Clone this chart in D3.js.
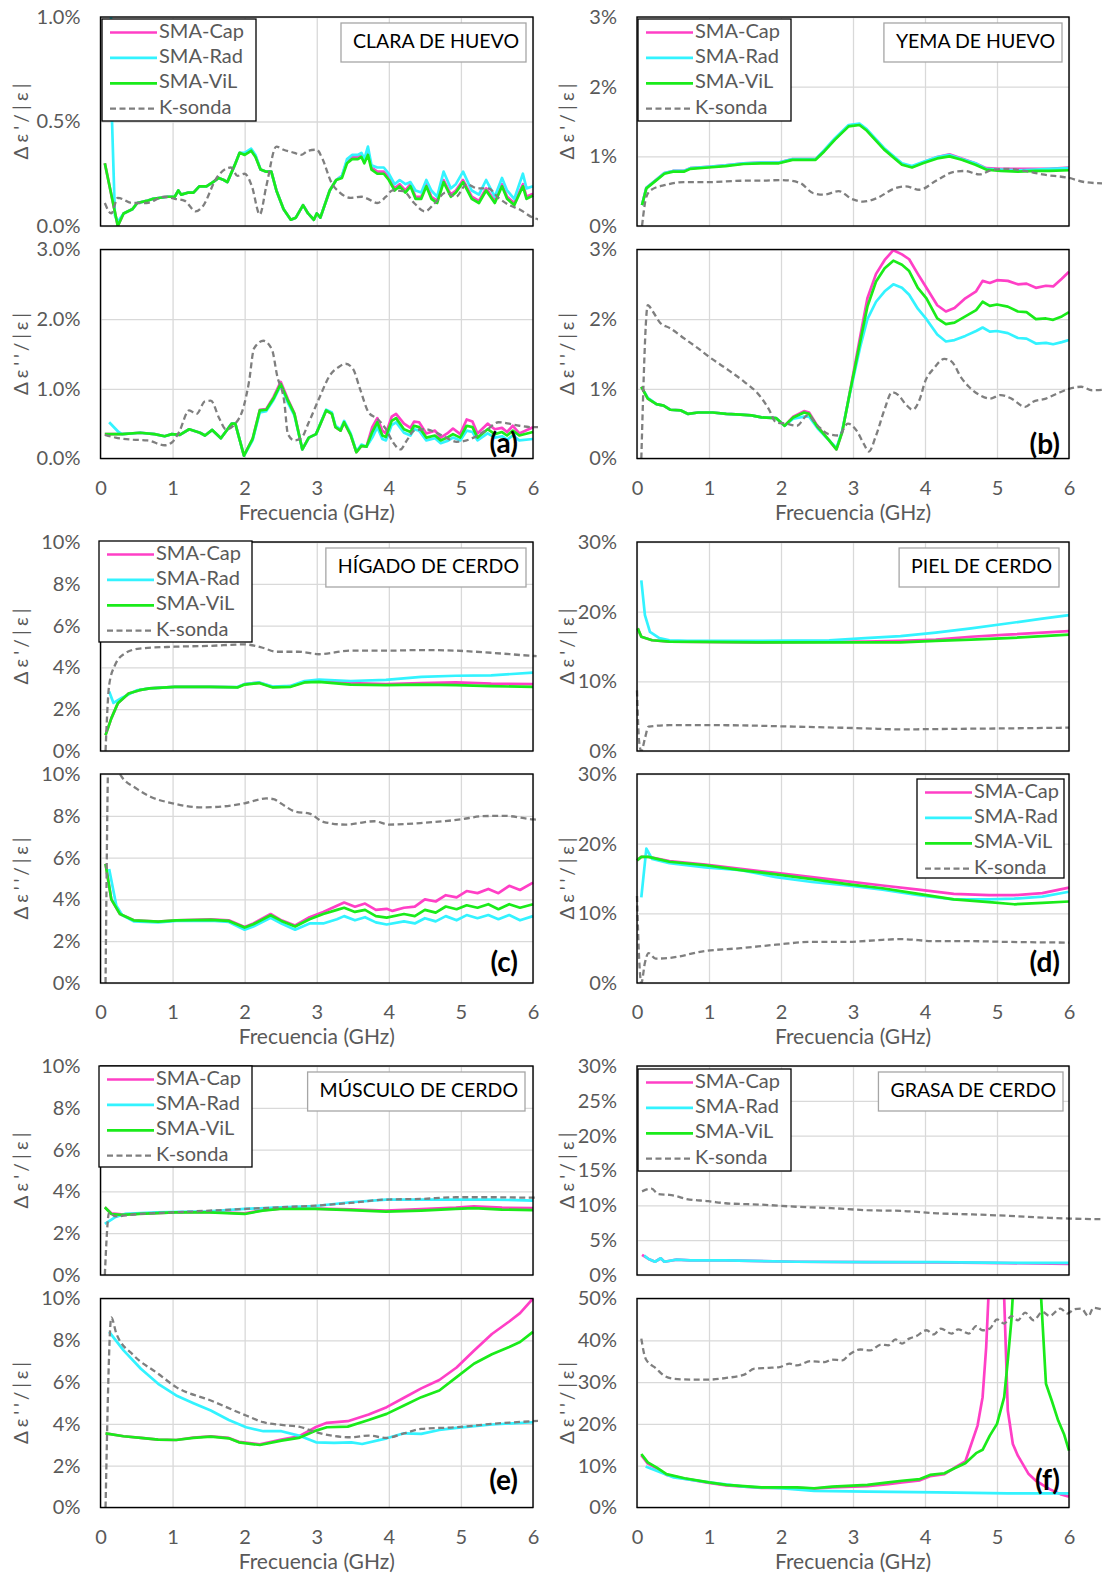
<!DOCTYPE html>
<html>
<head>
<meta charset="utf-8">
<script src="https://cdn.jsdelivr.net/npm/d3@7"></script>
<style>
  body { margin: 0; background: #fff; }
  svg text { font-family: Lato, "Open Sans", sans-serif; }
</style>
</head>
<body>
<svg id="chart" width="1102" height="1573"></svg>
<script>
// ---- data: [frecuencia GHz, error %] ----
// (a) clara de huevo
var aTopCap = [[0.06,0.30],[0.24,0.0],[0.32,0.06],[0.44,0.08],[0.51,0.11],[0.64,0.12],[0.73,0.13],[0.83,0.135],[0.93,0.14],[1.03,0.14],[1.08,0.17],[1.12,0.15],[1.22,0.16],[1.29,0.16],[1.37,0.19],[1.47,0.19],[1.56,0.21],[1.64,0.23],[1.71,0.22],[1.76,0.21],[1.86,0.29],[1.93,0.35],[2.0,0.345],[2.09,0.365],[2.15,0.335],[2.22,0.27],[2.3,0.26],[2.37,0.26],[2.44,0.17],[2.54,0.08],[2.64,0.03],[2.71,0.04],[2.81,0.10],[2.88,0.06],[2.96,0.03],[3.0,0.06],[3.05,0.04],[3.18,0.17],[3.27,0.22],[3.35,0.24],[3.42,0.31],[3.49,0.33],[3.57,0.33],[3.62,0.34],[3.66,0.31],[3.71,0.355],[3.76,0.28],[3.84,0.26],[3.93,0.26],[4.0,0.23],[4.08,0.18],[4.15,0.2],[4.23,0.17],[4.3,0.2],[4.37,0.14],[4.45,0.14],[4.52,0.2],[4.59,0.14],[4.67,0.12],[4.76,0.22],[4.86,0.15],[4.93,0.17],[5.03,0.22],[5.15,0.14],[5.25,0.12],[5.35,0.18],[5.47,0.12],[5.57,0.2],[5.64,0.14],[5.74,0.11],[5.86,0.2],[5.91,0.14],[6.0,0.155]];
var aTopRad = [[0.14,1.2],[0.16,0.5],[0.2,0.05],[0.24,0.02],[0.32,0.06],[0.44,0.08],[0.51,0.11],[0.64,0.12],[0.73,0.13],[0.83,0.135],[0.93,0.14],[1.03,0.14],[1.08,0.17],[1.12,0.15],[1.22,0.16],[1.29,0.16],[1.37,0.19],[1.47,0.19],[1.56,0.21],[1.64,0.23],[1.71,0.22],[1.76,0.21],[1.86,0.29],[1.93,0.35],[2.0,0.35],[2.09,0.37],[2.15,0.34],[2.22,0.27],[2.3,0.26],[2.37,0.26],[2.44,0.17],[2.54,0.08],[2.64,0.03],[2.71,0.04],[2.81,0.10],[2.88,0.06],[2.96,0.03],[3.0,0.06],[3.05,0.04],[3.18,0.17],[3.27,0.22],[3.35,0.24],[3.42,0.32],[3.49,0.34],[3.57,0.34],[3.62,0.35],[3.66,0.32],[3.71,0.38],[3.76,0.29],[3.84,0.28],[3.93,0.28],[4.0,0.25],[4.08,0.2],[4.15,0.22],[4.23,0.2],[4.3,0.21],[4.37,0.17],[4.45,0.16],[4.52,0.22],[4.59,0.17],[4.67,0.14],[4.76,0.26],[4.86,0.18],[4.93,0.2],[5.03,0.26],[5.15,0.17],[5.25,0.15],[5.35,0.22],[5.47,0.14],[5.57,0.23],[5.64,0.17],[5.74,0.13],[5.86,0.25],[5.91,0.18],[6.0,0.19]];
var aTopVil = [[0.06,0.30],[0.24,0.0],[0.32,0.06],[0.44,0.08],[0.51,0.11],[0.64,0.12],[0.73,0.13],[0.83,0.135],[0.93,0.14],[1.03,0.14],[1.08,0.17],[1.12,0.15],[1.22,0.16],[1.29,0.16],[1.37,0.19],[1.47,0.19],[1.56,0.21],[1.64,0.23],[1.71,0.22],[1.76,0.21],[1.86,0.29],[1.93,0.35],[2.0,0.34],[2.09,0.36],[2.15,0.33],[2.22,0.27],[2.3,0.26],[2.37,0.26],[2.44,0.17],[2.54,0.08],[2.64,0.03],[2.71,0.04],[2.81,0.10],[2.88,0.06],[2.96,0.03],[3.0,0.06],[3.05,0.04],[3.18,0.17],[3.27,0.22],[3.35,0.23],[3.42,0.30],[3.49,0.32],[3.57,0.32],[3.62,0.33],[3.66,0.30],[3.71,0.34],[3.76,0.27],[3.84,0.25],[3.93,0.25],[4.0,0.22],[4.08,0.17],[4.15,0.19],[4.23,0.16],[4.3,0.19],[4.37,0.13],[4.45,0.13],[4.52,0.19],[4.59,0.13],[4.67,0.11],[4.76,0.21],[4.86,0.14],[4.93,0.16],[5.03,0.21],[5.15,0.13],[5.25,0.11],[5.35,0.17],[5.47,0.11],[5.57,0.19],[5.64,0.13],[5.74,0.10],[5.86,0.19],[5.91,0.13],[6.0,0.146]];
var aTopKs = [[0.06,0.11],[0.15,0.06],[0.24,0.135],[0.44,0.11],[0.64,0.11],[0.88,0.14],[1.03,0.13],[1.17,0.12],[1.32,0.07],[1.42,0.095],[1.61,0.23],[1.81,0.28],[1.9,0.24],[2.0,0.25],[2.1,0.19],[2.21,0.055],[2.3,0.19],[2.44,0.38],[2.54,0.365],[2.69,0.35],[2.78,0.34],[2.88,0.36],[3.0,0.365],[3.08,0.32],[3.2,0.21],[3.32,0.16],[3.47,0.135],[3.62,0.14],[3.71,0.13],[3.84,0.11],[3.96,0.14],[4.05,0.17],[4.2,0.167],[4.35,0.11],[4.5,0.07],[4.64,0.11],[4.79,0.16],[4.93,0.14],[5.08,0.2],[5.23,0.18],[5.38,0.18],[5.52,0.135],[5.67,0.10],[5.81,0.08],[6.0,0.04],[6.1,0.03]];

var aBotCap = [[0.06,0.35],[0.3,0.35],[0.55,0.37],[0.75,0.35],[0.89,0.32],[0.99,0.35],[1.1,0.34],[1.23,0.42],[1.38,0.37],[1.45,0.33],[1.55,0.41],[1.67,0.29],[1.82,0.5],[1.87,0.5],[1.99,0.04],[2.11,0.28],[2.21,0.7],[2.3,0.71],[2.4,0.88],[2.5,1.1],[2.6,0.85],[2.69,0.65],[2.8,0.13],[2.89,0.3],[2.99,0.35],[3.13,0.69],[3.21,0.64],[3.26,0.45],[3.33,0.4],[3.38,0.52],[3.47,0.34],[3.55,0.09],[3.62,0.18],[3.69,0.17],[3.77,0.45],[3.84,0.58],[3.91,0.4],[3.96,0.36],[4.04,0.6],[4.1,0.64],[4.21,0.5],[4.3,0.44],[4.35,0.53],[4.42,0.52],[4.52,0.36],[4.64,0.4],[4.72,0.3],[4.81,0.36],[4.89,0.43],[4.99,0.35],[5.08,0.56],[5.16,0.53],[5.23,0.36],[5.37,0.5],[5.47,0.42],[5.57,0.44],[5.64,0.38],[5.72,0.47],[5.81,0.36],[6.0,0.45]];
var aBotRad = [[0.12,0.52],[0.25,0.38],[0.3,0.35],[0.55,0.37],[0.75,0.35],[0.89,0.32],[0.99,0.35],[1.1,0.34],[1.23,0.42],[1.38,0.37],[1.45,0.33],[1.55,0.41],[1.67,0.29],[1.82,0.5],[1.87,0.5],[1.99,0.04],[2.11,0.26],[2.21,0.66],[2.3,0.68],[2.4,0.84],[2.5,1.05],[2.6,0.8],[2.69,0.62],[2.8,0.13],[2.89,0.3],[2.99,0.35],[3.13,0.7],[3.21,0.66],[3.26,0.47],[3.33,0.42],[3.38,0.54],[3.47,0.36],[3.55,0.1],[3.62,0.2],[3.69,0.17],[3.77,0.3],[3.84,0.45],[3.91,0.28],[3.96,0.26],[4.04,0.48],[4.1,0.52],[4.21,0.37],[4.3,0.33],[4.35,0.42],[4.42,0.4],[4.52,0.26],[4.64,0.29],[4.72,0.22],[4.81,0.25],[4.89,0.3],[4.99,0.26],[5.08,0.4],[5.16,0.38],[5.23,0.26],[5.37,0.36],[5.47,0.3],[5.57,0.32],[5.64,0.27],[5.72,0.33],[5.81,0.26],[6.0,0.28]];
var aBotVil = [[0.06,0.35],[0.3,0.35],[0.55,0.37],[0.75,0.35],[0.89,0.32],[0.99,0.35],[1.1,0.34],[1.23,0.42],[1.38,0.37],[1.45,0.33],[1.55,0.41],[1.67,0.29],[1.82,0.5],[1.87,0.5],[1.99,0.04],[2.11,0.28],[2.21,0.69],[2.3,0.7],[2.4,0.86],[2.5,1.07],[2.6,0.83],[2.69,0.64],[2.8,0.13],[2.89,0.3],[2.99,0.35],[3.13,0.69],[3.21,0.64],[3.26,0.45],[3.33,0.4],[3.38,0.52],[3.47,0.34],[3.55,0.09],[3.62,0.18],[3.69,0.17],[3.77,0.38],[3.84,0.52],[3.91,0.33],[3.96,0.31],[4.04,0.54],[4.1,0.58],[4.21,0.42],[4.3,0.38],[4.35,0.47],[4.42,0.45],[4.52,0.3],[4.64,0.33],[4.72,0.26],[4.81,0.3],[4.89,0.35],[4.99,0.3],[5.08,0.47],[5.16,0.45],[5.23,0.3],[5.37,0.42],[5.47,0.35],[5.57,0.38],[5.64,0.33],[5.72,0.4],[5.81,0.33],[6.0,0.38]];
var aBotKs = [[0.06,0.34],[0.21,0.3],[0.45,0.27],[0.65,0.26],[0.89,0.19],[0.99,0.23],[1.09,0.38],[1.23,0.69],[1.33,0.64],[1.45,0.82],[1.53,0.83],[1.65,0.57],[1.74,0.42],[1.87,0.5],[1.99,0.76],[2.06,1.1],[2.13,1.58],[2.26,1.69],[2.38,1.56],[2.45,1.19],[2.55,0.81],[2.6,0.35],[2.69,0.26],[2.79,0.3],[2.89,0.52],[3.04,0.88],[3.18,1.19],[3.3,1.31],[3.4,1.36],[3.5,1.29],[3.6,1.0],[3.72,0.66],[3.84,0.57],[3.96,0.42],[4.06,0.23],[4.16,0.13],[4.25,0.26],[4.35,0.4],[4.5,0.42],[4.64,0.38],[4.79,0.3],[4.94,0.24],[5.08,0.26],[5.23,0.33],[5.37,0.42],[5.52,0.52],[5.67,0.5],[5.81,0.47],[6.0,0.45],[6.1,0.45]];

// (b) yema de huevo
var bTopCap = [[0.07,0.3],[0.13,0.55],[0.25,0.65],[0.38,0.76],[0.5,0.79],[0.65,0.79],[0.74,0.83],[0.99,0.85],[1.23,0.87],[1.48,0.9],[1.72,0.91],[1.97,0.91],[2.16,0.96],[2.48,0.96],[2.6,1.08],[2.75,1.25],[2.94,1.44],[3.09,1.46],[3.19,1.38],[3.43,1.11],[3.68,0.89],[3.82,0.85],[3.97,0.91],[4.17,0.99],[4.34,1.03],[4.51,0.97],[4.7,0.9],[4.85,0.83],[5.05,0.82],[5.29,0.82],[5.54,0.82],[5.73,0.82],[6.0,0.84]];
var bTopRad = [[0.07,0.3],[0.13,0.55],[0.25,0.65],[0.38,0.76],[0.5,0.79],[0.65,0.79],[0.74,0.83],[0.99,0.85],[1.23,0.87],[1.48,0.9],[1.72,0.91],[1.97,0.91],[2.16,0.96],[2.48,0.96],[2.6,1.09],[2.75,1.26],[2.94,1.45],[3.09,1.47],[3.19,1.39],[3.43,1.12],[3.68,0.9],[3.82,0.86],[3.97,0.92],[4.17,0.99],[4.34,1.02],[4.51,0.96],[4.7,0.9],[4.85,0.82],[5.05,0.81],[5.29,0.8],[5.54,0.81],[5.73,0.82],[6.0,0.83]];
var bTopVil = [[0.07,0.3],[0.13,0.54],[0.25,0.64],[0.38,0.75],[0.5,0.78],[0.65,0.78],[0.74,0.82],[0.99,0.84],[1.23,0.86],[1.48,0.89],[1.72,0.9],[1.97,0.9],[2.16,0.95],[2.48,0.95],[2.6,1.07],[2.75,1.24],[2.94,1.43],[3.09,1.45],[3.19,1.37],[3.43,1.1],[3.68,0.88],[3.82,0.84],[3.97,0.9],[4.17,0.97],[4.34,1.0],[4.51,0.95],[4.7,0.88],[4.85,0.81],[5.05,0.79],[5.29,0.78],[5.54,0.79],[5.73,0.79],[6.0,0.8]];
var bTopKs = [[0.07,0],[0.13,0.42],[0.2,0.52],[0.4,0.59],[0.65,0.63],[0.99,0.63],[1.48,0.65],[1.72,0.65],[2.01,0.66],[2.26,0.62],[2.45,0.47],[2.6,0.45],[2.8,0.5],[2.99,0.385],[3.14,0.35],[3.33,0.4],[3.58,0.54],[3.73,0.57],[3.92,0.52],[4.17,0.66],[4.41,0.78],[4.56,0.79],[4.75,0.74],[4.95,0.81],[5.14,0.82],[5.39,0.79],[5.63,0.74],[6.0,0.69],[6.22,0.63],[6.5,0.61]];

var bBotCap = [[0.06,1.03],[0.15,0.86],[0.27,0.78],[0.37,0.76],[0.46,0.7],[0.61,0.69],[0.71,0.64],[0.85,0.66],[1.05,0.66],[1.24,0.64],[1.44,0.63],[1.59,0.62],[1.73,0.59],[1.93,0.58],[2.05,0.47],[2.17,0.6],[2.32,0.68],[2.39,0.66],[2.51,0.46],[2.66,0.27],[2.77,0.13],[2.85,0.38],[2.95,0.92],[3.1,1.75],[3.2,2.3],[3.32,2.65],[3.44,2.85],[3.56,2.99],[3.68,2.93],[3.78,2.86],[3.9,2.65],[4.02,2.45],[4.17,2.2],[4.29,2.11],[4.41,2.16],[4.56,2.3],[4.71,2.4],[4.8,2.55],[4.9,2.52],[5.0,2.56],[5.15,2.55],[5.29,2.5],[5.41,2.51],[5.54,2.45],[5.68,2.48],[5.78,2.47],[5.9,2.58],[6.0,2.68]];
var bBotRad = [[0.1,0.96],[0.15,0.87],[0.27,0.78],[0.37,0.76],[0.46,0.7],[0.61,0.69],[0.71,0.64],[0.85,0.66],[1.05,0.66],[1.24,0.64],[1.44,0.63],[1.59,0.62],[1.73,0.59],[1.93,0.58],[2.05,0.47],[2.17,0.57],[2.32,0.6],[2.39,0.6],[2.51,0.43],[2.66,0.27],[2.77,0.15],[2.85,0.4],[2.95,0.9],[3.1,1.6],[3.2,2.0],[3.32,2.25],[3.44,2.4],[3.56,2.5],[3.68,2.45],[3.78,2.35],[3.9,2.15],[4.02,2.0],[4.17,1.78],[4.29,1.68],[4.41,1.7],[4.56,1.76],[4.71,1.83],[4.8,1.88],[4.9,1.82],[5.0,1.83],[5.15,1.8],[5.29,1.73],[5.41,1.72],[5.54,1.65],[5.68,1.66],[5.78,1.64],[5.9,1.67],[6.0,1.7]];
var bBotVil = [[0.06,1.03],[0.15,0.86],[0.27,0.78],[0.37,0.76],[0.46,0.7],[0.61,0.69],[0.71,0.64],[0.85,0.66],[1.05,0.66],[1.24,0.64],[1.44,0.63],[1.59,0.62],[1.73,0.59],[1.93,0.58],[2.05,0.47],[2.17,0.59],[2.32,0.66],[2.39,0.64],[2.51,0.45],[2.66,0.27],[2.77,0.13],[2.85,0.38],[2.95,0.91],[3.1,1.68],[3.2,2.18],[3.32,2.54],[3.44,2.73],[3.56,2.84],[3.68,2.78],[3.78,2.69],[3.9,2.45],[4.02,2.3],[4.17,2.01],[4.29,1.93],[4.41,1.95],[4.56,2.04],[4.71,2.13],[4.8,2.25],[4.9,2.19],[5.0,2.21],[5.15,2.18],[5.29,2.11],[5.41,2.1],[5.54,2.0],[5.68,2.01],[5.78,1.99],[5.9,2.04],[6.0,2.1]];
var bBotKs = [[0.06,0],[0.15,2.2],[0.22,2.11],[0.32,1.95],[0.46,1.87],[0.66,1.72],[0.85,1.58],[1.0,1.46],[1.24,1.29],[1.49,1.1],[1.68,0.93],[1.83,0.71],[1.93,0.52],[2.07,0.5],[2.22,0.47],[2.37,0.62],[2.51,0.47],[2.66,0.35],[2.8,0.33],[2.93,0.5],[3.05,0.4],[3.15,0.21],[3.22,0.1],[3.32,0.33],[3.44,0.71],[3.54,0.95],[3.63,0.91],[3.73,0.78],[3.83,0.7],[3.93,0.86],[4.0,1.1],[4.12,1.29],[4.27,1.43],[4.37,1.39],[4.51,1.15],[4.61,1.03],[4.76,0.91],[4.9,0.86],[5.05,0.91],[5.2,0.86],[5.39,0.74],[5.49,0.81],[5.68,0.86],[5.83,0.93],[6.0,1.0],[6.17,1.03],[6.32,0.98],[6.5,0.99]];

// (c) hígado de cerdo
var cTopCap = [[0.07,0.76],[0.15,1.56],[0.24,2.28],[0.39,2.75],[0.54,2.91],[0.68,3.0],[1.03,3.07],[1.51,3.07],[1.9,3.05],[2.0,3.2],[2.2,3.27],[2.39,3.06],[2.64,3.1],[2.83,3.3],[3.03,3.35],[3.47,3.25],[3.96,3.2],[4.45,3.25],[4.93,3.28],[5.42,3.22],[6.0,3.2]];
var cTopRad = [[0.12,2.85],[0.18,2.3],[0.3,2.55],[0.5,2.9],[0.68,3.0],[1.03,3.07],[1.51,3.07],[1.9,3.06],[2.0,3.2],[2.2,3.28],[2.39,3.08],[2.64,3.12],[2.83,3.35],[3.03,3.42],[3.47,3.35],[3.96,3.4],[4.45,3.55],[4.93,3.6],[5.42,3.62],[6.0,3.75]];
var cTopVil = [[0.07,0.76],[0.15,1.56],[0.24,2.28],[0.39,2.75],[0.54,2.91],[0.68,3.0],[1.03,3.07],[1.51,3.07],[1.9,3.04],[2.0,3.18],[2.2,3.25],[2.39,3.04],[2.64,3.07],[2.83,3.28],[3.03,3.31],[3.47,3.18],[3.96,3.15],[4.45,3.18],[4.93,3.15],[5.42,3.1],[6.0,3.07]];
var cTopKs = [[0.07,0],[0.12,3.15],[0.2,4.1],[0.34,4.67],[0.54,4.9],[1.03,4.99],[1.51,5.03],[2.0,5.1],[2.25,4.94],[2.44,4.75],[2.74,4.75],[3.03,4.63],[3.47,4.8],[3.96,4.8],[4.45,4.83],[4.93,4.8],[5.42,4.7],[6.0,4.55],[6.05,4.54]];

var cBotCap = [[0.07,5.7],[0.15,4.0],[0.27,3.3],[0.46,3.0],[0.8,2.94],[1.05,3.0],[1.53,3.05],[1.78,3.0],[2.0,2.68],[2.12,2.85],[2.36,3.3],[2.51,3.0],[2.7,2.75],[2.9,3.15],[3.09,3.4],[3.28,3.7],[3.38,3.85],[3.53,3.65],[3.67,3.8],[3.82,3.5],[3.97,3.55],[4.05,3.45],[4.21,3.6],[4.36,3.65],[4.5,4.0],[4.65,3.9],[4.79,4.2],[4.94,4.1],[5.08,4.4],[5.23,4.3],[5.38,4.5],[5.52,4.3],[5.67,4.65],[5.82,4.45],[6.0,4.8]];
var cBotRad = [[0.12,5.45],[0.22,3.7],[0.3,3.25],[0.46,2.95],[0.8,2.9],[1.05,2.97],[1.53,2.98],[1.78,2.92],[2.0,2.55],[2.12,2.7],[2.36,3.12],[2.51,2.85],[2.7,2.55],[2.9,2.85],[3.09,2.85],[3.28,3.05],[3.38,3.2],[3.53,3.0],[3.67,3.15],[3.82,2.9],[3.97,2.8],[4.21,2.95],[4.36,2.85],[4.5,3.1],[4.65,2.95],[4.79,3.2],[4.94,3.0],[5.08,3.25],[5.23,3.1],[5.38,3.25],[5.52,3.05],[5.67,3.25],[5.82,3.0],[6.0,3.2]];
var cBotVil = [[0.07,5.7],[0.15,4.0],[0.27,3.3],[0.46,3.0],[0.8,2.94],[1.05,3.0],[1.53,3.02],[1.78,2.97],[2.0,2.65],[2.12,2.81],[2.36,3.24],[2.51,2.97],[2.7,2.7],[2.9,3.05],[3.09,3.3],[3.28,3.5],[3.38,3.6],[3.53,3.4],[3.67,3.5],[3.82,3.2],[3.97,3.13],[4.21,3.3],[4.36,3.2],[4.5,3.5],[4.65,3.37],[4.79,3.66],[4.94,3.53],[5.08,3.72],[5.23,3.6],[5.38,3.77],[5.52,3.53],[5.67,3.77],[5.82,3.6],[6.0,3.77]];
var cBotKs = [[0.07,0],[0.12,12],[0.2,10.6],[0.27,10.0],[0.5,9.3],[0.7,8.9],[1.0,8.6],[1.4,8.4],[1.7,8.45],[2.0,8.6],[2.3,8.83],[2.4,8.8],[2.5,8.6],[2.7,8.2],[2.9,8.1],[3.1,7.7],[3.4,7.58],[3.8,7.74],[4.0,7.58],[4.5,7.67],[5.0,7.83],[5.3,7.98],[5.6,8.0],[6.0,7.83],[6.05,7.82]];

// (d) piel de cerdo
var dTopCap = [[0.01,17.6],[0.06,16.4],[0.21,15.9],[0.45,15.7],[1.69,15.6],[3.17,15.7],[3.66,15.8],[4.15,16.0],[4.64,16.4],[5.14,16.7],[6.0,17.2]];
var dTopRad = [[0.06,24.5],[0.11,19.5],[0.18,17.1],[0.31,16.2],[0.45,15.9],[0.7,15.8],[1.69,15.8],[2.67,15.9],[3.17,16.2],[3.66,16.5],[4.15,17.0],[4.64,17.6],[5.14,18.3],[5.63,19.0],[6.0,19.5]];
var dTopVil = [[0.01,17.6],[0.06,16.4],[0.21,15.9],[0.45,15.7],[1.69,15.6],[3.17,15.6],[3.66,15.6],[4.15,15.8],[4.64,16.0],[5.14,16.2],[6.0,16.7]];
var dTopKs = [[0.0,8.7],[0.03,1.3],[0.06,0],[0.11,1.8],[0.16,3.5],[0.45,3.7],[1.19,3.7],[2.18,3.5],[3.17,3.25],[3.66,3.1],[4.15,3.15],[5.14,3.25],[6.0,3.35]];

var dBotCap = [[0.0,17.6],[0.06,18.1],[0.16,18.1],[0.45,17.5],[0.95,17.0],[1.44,16.4],[1.93,15.8],[2.43,15.2],[2.92,14.6],[3.41,14.0],[3.91,13.4],[4.4,12.8],[4.89,12.6],[5.24,12.6],[5.63,12.9],[6.0,13.7]];
var dBotRad = [[0.06,12.3],[0.13,19.3],[0.21,17.8],[0.45,17.2],[0.95,16.6],[1.44,16.2],[1.93,15.2],[2.43,14.5],[2.92,14.0],[3.41,13.4],[3.91,12.6],[4.4,12.0],[4.89,12.0],[5.24,12.1],[5.63,12.4],[6.0,13.1]];
var dBotVil = [[0.0,17.6],[0.06,18.1],[0.16,18.1],[0.45,17.4],[0.95,16.9],[1.44,16.2],[1.93,15.6],[2.43,14.9],[2.92,14.2],[3.41,13.6],[3.91,12.8],[4.4,12.0],[4.89,11.6],[5.24,11.3],[5.63,11.5],[6.0,11.7]];
var dBotKs = [[0.0,12.5],[0.03,3.4],[0.06,0],[0.11,2.9],[0.16,4.3],[0.26,3.5],[0.45,3.6],[0.95,4.6],[1.44,5.0],[1.93,5.5],[2.43,5.9],[2.92,5.9],[3.41,6.2],[3.66,6.3],[4.15,6.0],[4.64,6.0],[5.14,5.9],[6.0,5.8]];

// (e) músculo de cerdo
var eTopCap = [[0.06,3.24],[0.15,2.95],[0.29,2.9],[0.54,2.93],[1.03,3.0],[1.51,3.02],[2.0,2.95],[2.25,3.1],[2.49,3.18],[2.98,3.18],[3.47,3.14],[3.96,3.08],[4.45,3.15],[4.93,3.22],[5.18,3.28],[5.57,3.22],[6.0,3.2]];
var eTopRad = [[0.06,2.45],[0.2,2.76],[0.34,2.92],[0.78,3.0],[1.51,3.05],[2.0,3.16],[2.49,3.24],[2.98,3.3],[3.47,3.48],[3.96,3.61],[4.45,3.61],[4.93,3.61],[5.42,3.61],[6.0,3.56]];
var eTopVil = [[0.06,3.24],[0.15,2.92],[0.29,2.88],[0.54,2.92],[1.03,3.0],[1.51,3.0],[2.0,2.92],[2.25,3.08],[2.49,3.16],[2.98,3.16],[3.47,3.1],[3.96,3.03],[4.45,3.08],[4.93,3.16],[5.18,3.2],[5.57,3.13],[6.0,3.1]];
var eTopKs = [[0.06,0],[0.12,3.0],[0.2,2.81],[0.54,2.92],[1.03,3.0],[1.51,3.08],[2.0,3.16],[2.49,3.24],[2.98,3.32],[3.47,3.45],[3.96,3.61],[4.45,3.64],[4.93,3.72],[5.42,3.72],[6.0,3.7],[6.1,3.7]];

var eBotCap = [[0.07,3.55],[0.32,3.41],[0.56,3.33],[0.8,3.25],[1.05,3.23],[1.29,3.35],[1.53,3.41],[1.78,3.33],[1.92,3.14],[2.21,3.02],[2.51,3.25],[2.75,3.4],[2.99,3.85],[3.14,4.05],[3.43,4.13],[3.72,4.45],[3.97,4.8],[4.21,5.25],[4.45,5.7],[4.7,6.1],[4.94,6.7],[5.18,7.5],[5.43,8.3],[5.67,8.9],[5.82,9.3],[6.0,10.0]];
var eBotRad = [[0.12,8.4],[0.32,7.52],[0.56,6.64],[0.8,5.92],[1.05,5.36],[1.29,4.99],[1.53,4.64],[1.78,4.19],[2.02,3.84],[2.26,3.65],[2.51,3.65],[2.75,3.44],[2.99,3.12],[3.24,3.09],[3.48,3.12],[3.63,3.04],[3.97,3.31],[4.21,3.55],[4.45,3.52],[4.7,3.71],[4.94,3.81],[5.43,3.97],[6.0,4.08]];
var eBotVil = [[0.07,3.55],[0.32,3.41],[0.56,3.33],[0.8,3.25],[1.05,3.23],[1.29,3.33],[1.53,3.39],[1.78,3.31],[1.92,3.12],[2.21,2.99],[2.51,3.2],[2.75,3.33],[2.99,3.68],[3.14,3.84],[3.43,3.87],[3.72,4.19],[3.97,4.48],[4.21,4.88],[4.45,5.28],[4.7,5.6],[4.94,6.24],[5.18,6.88],[5.43,7.33],[5.67,7.68],[5.82,7.92],[6.0,8.4]];
var eBotKs = [[0.07,0],[0.15,9.09],[0.22,8.32],[0.46,7.28],[0.8,6.4],[1.05,5.76],[1.53,5.12],[2.02,4.4],[2.26,4.08],[2.51,3.95],[2.75,3.87],[2.99,3.6],[3.48,3.36],[3.72,3.44],[3.97,3.33],[4.21,3.55],[4.45,3.76],[4.94,3.84],[5.43,4.0],[6.0,4.13],[6.1,4.15]];

// (f) grasa de cerdo
var fTopCap = [[0.07,2.9],[0.16,2.3],[0.25,1.9],[0.33,2.4],[0.38,1.9],[0.55,2.2],[0.74,2.1],[1.23,2.1],[2.21,1.9],[3.19,1.85],[4.17,1.8],[5.14,1.7],[6.0,1.6]];
var fTopRad = [[0.1,2.8],[0.16,2.3],[0.25,1.9],[0.33,2.4],[0.38,1.9],[0.55,2.2],[0.74,2.1],[1.23,2.1],[2.21,1.9],[3.19,1.85],[4.17,1.85],[5.14,1.75],[6.0,1.75]];
var fTopVil = [];
var fTopKs = [[0.07,12.0],[0.2,12.4],[0.3,11.6],[0.45,11.5],[0.55,11.3],[0.69,10.9],[0.99,10.6],[1.23,10.3],[1.72,10.1],[2.21,9.8],[2.7,9.6],[3.19,9.3],[3.68,9.2],[4.17,8.85],[4.66,8.7],[5.14,8.5],[5.63,8.25],[6.0,8.1],[6.5,8.0]];

var fBotCap = [[0.06,12.5],[0.15,10.5],[0.27,9.4],[0.41,7.8],[0.66,6.9],[1.0,5.9],[1.24,5.3],[1.73,4.7],[2.22,4.7],[2.46,4.5],[2.71,4.8],[3.2,5.1],[3.49,5.6],[3.68,6.0],[3.93,6.5],[4.07,7.5],[4.27,8.0],[4.41,9.5],[4.56,11.0],[4.73,19.6],[4.8,26.4],[4.85,38.4],[4.88,50],[4.95,100],[5.05,100],[5.1,50],[5.15,23.2],[5.22,15.2],[5.29,12.4],[5.44,8.0],[5.54,6.4],[5.73,4.4],[5.88,3.2],[6.0,2.6]];
var fBotRad = [[0.12,9.8],[0.27,8.8],[0.51,7.2],[1.0,6.0],[1.49,5.0],[1.98,4.6],[2.46,4.0],[3.2,3.8],[4.17,3.6],[5.15,3.4],[6.0,3.4]];
var fBotVil = [[0.06,12.8],[0.15,10.8],[0.27,9.6],[0.41,8.0],[0.66,7.0],[1.0,6.0],[1.24,5.4],[1.73,4.8],[2.22,4.8],[2.46,4.6],[2.71,5.0],[3.2,5.4],[3.49,6.0],[3.68,6.4],[3.93,6.8],[4.07,7.8],[4.27,8.2],[4.41,9.4],[4.56,10.6],[4.71,13.0],[4.8,13.8],[4.9,17.2],[5.0,20.0],[5.1,26.4],[5.15,35.2],[5.2,44.8],[5.25,60],[5.4,150],[5.58,60],[5.62,48],[5.68,29.6],[5.76,25.6],[5.85,20.8],[5.93,17.6],[6.0,13.6]];
var fBotKs = [[0.06,40.4],[0.12,35.6],[0.27,33.2],[0.37,31.6],[0.51,30.8],[0.76,30.6],[1.0,30.6],[1.24,31.0],[1.49,31.8],[1.63,33.2],[1.83,33.4],[1.98,33.6],[2.12,34.4],[2.22,34.0],[2.41,35.0],[2.61,34.8],[2.71,35.4],[2.85,35.2],[2.95,36.6],[3.1,37.8],[3.24,37.6],[3.39,39.0],[3.49,38.8],[3.59,40.2],[3.68,39.2],[3.78,40.4],[3.88,41.0],[4.02,42.4],[4.12,41.4],[4.22,42.8],[4.37,41.6],[4.46,42.6],[4.61,41.6],[4.71,43.4],[4.8,42.4],[4.9,42.8],[5.0,45.0],[5.1,44.0],[5.2,45.8],[5.29,44.8],[5.39,46.6],[5.51,44.8],[5.63,46.8],[5.73,45.8],[5.88,47.6],[5.98,46.4],[6.07,47.4],[6.17,47.6],[6.27,45.8],[6.34,47.8],[6.45,47.4]];

var xTicks = [0, 1, 2, 3, 4, 5, 6];
var seriesKeys = ["cap", "rad", "vil", "ks"];
var seriesNames = {cap: "SMA-Cap", rad: "SMA-Rad", vil: "SMA-ViL", ks: "K-sonda"};
var colors = {cap: "#ff3fc6", rad: "#33f3ff", vil: "#1aeb1a", ks: "#7f7f7f"};

// ---- layout ----
var colL = {x0: 100.5, x1: 533, clipR: 538, yTitle: 23, label: 518},
    colR = {x0: 637, x1: 1069, clipR: 1102, yTitle: 569, label: 1060};
var plotH = 209;
var yPrime = "\u0394\u03b5'/|\u03b5|", yDouble = "\u0394\u03b5''/|\u03b5|";

var panels = [
  {col: colL, top: 17, yMax: 1.0, step: 0.5, dec: 1, title: yPrime,
   data: {cap: aTopCap, rad: aTopRad, vil: aTopVil, ks: aTopKs},
   legend: {x: 102, y: 19, w: 154, h: 102}, name: {text: "CLARA DE HUEVO", right: 526, y: 23}},
  {col: colL, top: 249.5, yMax: 3.0, step: 1, dec: 1, title: yDouble, tag: "(a)", tagY: 443,
   data: {cap: aBotCap, rad: aBotRad, vil: aBotVil, ks: aBotKs}},
  {col: colR, top: 17, yMax: 3, step: 1, dec: 0, title: yPrime,
   data: {cap: bTopCap, rad: bTopRad, vil: bTopVil, ks: bTopKs},
   legend: {x: 638, y: 19, w: 153, h: 102}, name: {text: "YEMA DE HUEVO", right: 1062, y: 23}},
  {col: colR, top: 249.5, yMax: 3, step: 1, dec: 0, title: yDouble, tag: "(b)", tagY: 444,
   data: {cap: bBotCap, rad: bBotRad, vil: bBotVil, ks: bBotKs}},
  {col: colL, top: 542, yMax: 10, step: 2, dec: 0, title: yPrime,
   data: {cap: cTopCap, rad: cTopRad, vil: cTopVil, ks: cTopKs},
   legend: {x: 99, y: 541, w: 153, h: 101}, name: {text: "H\u00cdGADO DE CERDO", right: 526, y: 548}},
  {col: colL, top: 774, yMax: 10, step: 2, dec: 0, title: yDouble, tag: "(c)", tagY: 962,
   data: {cap: cBotCap, rad: cBotRad, vil: cBotVil, ks: cBotKs}},
  {col: colR, top: 542, yMax: 30, step: 10, dec: 0, title: yPrime,
   data: {cap: dTopCap, rad: dTopRad, vil: dTopVil, ks: dTopKs},
   name: {text: "PIEL DE CERDO", right: 1059, y: 548}},
  {col: colR, top: 774, yMax: 30, step: 10, dec: 0, title: yDouble, tag: "(d)", tagY: 962,
   data: {cap: dBotCap, rad: dBotRad, vil: dBotVil, ks: dBotKs},
   legend: {x: 917, y: 779, w: 147, h: 99}},
  {col: colL, top: 1066, yMax: 10, step: 2, dec: 0, title: yPrime,
   data: {cap: eTopCap, rad: eTopRad, vil: eTopVil, ks: eTopKs},
   legend: {x: 99, y: 1066, w: 153, h: 101}, name: {text: "M\u00daSCULO DE CERDO", right: 525, y: 1072}},
  {col: colL, top: 1298.5, yMax: 10, step: 2, dec: 0, title: yDouble, tag: "(e)", tagY: 1480,
   data: {cap: eBotCap, rad: eBotRad, vil: eBotVil, ks: eBotKs}},
  {col: colR, top: 1066, yMax: 30, step: 5, dec: 0, title: yPrime,
   data: {cap: fTopCap, rad: fTopRad, vil: fTopVil, ks: fTopKs},
   legend: {x: 638, y: 1069, w: 153, h: 102}, name: {text: "GRASA DE CERDO", right: 1063, y: 1072}},
  {col: colR, top: 1298.5, yMax: 50, step: 10, dec: 0, title: yDouble, tag: "(f)", tagY: 1480,
   data: {cap: fBotCap, rad: fBotRad, vil: fBotVil, ks: fBotKs}}
];

var svg = d3.select("#chart");
var gray = "#595959";

panels.forEach(function(p, i) {
  var c = p.col;
  var x = d3.scaleLinear().domain([0, 6]).range([c.x0, c.x1]);
  var y = d3.scaleLinear().domain([0, p.yMax]).range([p.top + plotH, p.top]);
  var yTicks = d3.range(0, p.yMax + p.step / 2, p.step);
  var g = svg.append("g");

  // gridlines
  g.append("g")
    .attr("transform", "translate(0," + (p.top + plotH) + ")")
    .call(d3.axisBottom(x).tickValues(xTicks).tickSize(-plotH).tickFormat(""))
    .call(function(a) { a.select(".domain").remove(); a.selectAll("line").attr("stroke", "#d9d9d9").attr("stroke-width", 1.3); });
  g.append("g")
    .attr("transform", "translate(" + c.x0 + ",0)")
    .call(d3.axisLeft(y).tickValues(yTicks).tickSize(-(c.x1 - c.x0)).tickFormat(""))
    .call(function(a) { a.select(".domain").remove(); a.selectAll("line").attr("stroke", "#d9d9d9").attr("stroke-width", 1.3); });

  // y tick labels
  g.append("g")
    .attr("transform", "translate(" + c.x0 + ",0)")
    .call(d3.axisLeft(y).tickValues(yTicks).tickSize(0).tickPadding(20)
      .tickFormat(function(d) { return d.toFixed(p.dec) + "%"; }))
    .call(function(a) {
      a.select(".domain").remove();
      a.attr("font-family", null).attr("font-size", 20);
      a.selectAll("text").attr("fill", gray);
    });

  // series
  var clipId = "clip" + i;
  svg.append("clipPath").attr("id", clipId).append("rect")
    .attr("x", c.x0 - 3).attr("y", p.top).attr("width", c.clipR - c.x0 + 3).attr("height", plotH);
  var lines = g.append("g").attr("clip-path", "url(#" + clipId + ")");
  seriesKeys.forEach(function(k) {
    var pts = p.data[k];
    if (!pts.length) return;
    var line = d3.line()
      .x(function(d) { return x(d[0]); })
      .y(function(d) { return y(d[1]); })
      .curve(k === "ks" ? d3.curveMonotoneX : d3.curveLinear);
    lines.append("path")
      .attr("d", line(pts))
      .attr("fill", "none")
      .attr("stroke", colors[k])
      .attr("stroke-width", k === "ks" ? 2.3 : 2.7)
      .attr("stroke-dasharray", k === "ks" ? "6,3.5" : null)
      .attr("stroke-linejoin", "round");
  });

  // plot frame
  g.append("rect")
    .attr("x", c.x0).attr("y", p.top)
    .attr("width", c.x1 - c.x0).attr("height", plotH)
    .attr("fill", "none").attr("stroke", "#000").attr("stroke-width", 1.4);

  // y title
  g.append("text")
    .attr("transform", "translate(" + c.yTitle + "," + (p.top + plotH / 2) + ") rotate(-90)")
    .attr("text-anchor", "middle").attr("dominant-baseline", "middle")
    .attr("font-size", 19).attr("fill", gray)
    .attr("textLength", p.title === yPrime ? 76 : 82).attr("lengthAdjust", "spacing")
    .text(p.title);

  if (p.tag) {
    g.append("g")
      .attr("transform", "translate(0," + (p.top + plotH) + ")")
      .call(d3.axisBottom(x).tickValues(xTicks).tickSize(0).tickPadding(22).tickFormat(d3.format("d")))
      .call(function(a) {
        a.select(".domain").remove();
        a.attr("font-family", null).attr("font-size", 20);
        a.selectAll("text").attr("fill", gray);
      });
    g.append("text")
      .attr("x", (c.x0 + c.x1) / 2).attr("y", p.top + plotH + 61)
      .attr("text-anchor", "middle").attr("font-size", 21).attr("fill", gray)
      .text("Frecuencia (GHz)");
    g.append("text")
      .attr("x", c.label).attr("y", p.tagY + 10)
      .attr("text-anchor", "end").attr("font-size", 28).attr("font-weight", "bold").attr("fill", "#000")
      .text(p.tag);
  }

  if (p.legend) {
    var L = p.legend;
    var lg = g.append("g");
    lg.append("rect").attr("x", L.x).attr("y", L.y).attr("width", L.w).attr("height", L.h)
      .attr("fill", "#fff").attr("stroke", "#000").attr("stroke-width", 1.3);
    seriesKeys.forEach(function(k, j) {
      var ry = L.y + 13.5 + j * 25.4;
      lg.append("line").attr("x1", L.x + 8).attr("x2", L.x + 55).attr("y1", ry).attr("y2", ry)
        .attr("stroke", colors[k]).attr("stroke-width", k === "ks" ? 2.3 : 2.7)
        .attr("stroke-dasharray", k === "ks" ? "6,3.5" : null);
      lg.append("text").attr("x", L.x + 57).attr("y", ry).attr("dominant-baseline", "middle")
        .attr("font-size", 20).attr("fill", gray).text(seriesNames[k]);
    });
  }

  if (p.name) {
    var N = p.name;
    var t = g.append("text").attr("x", N.right - 7).attr("y", N.y + 20)
      .attr("text-anchor", "end").attr("dominant-baseline", "middle")
      .attr("font-size", 19.5).attr("fill", "#000").text(N.text);
    var w = t.node().getComputedTextLength();
    g.insert("rect", function() { return t.node(); })
      .attr("x", N.right - w - 19).attr("y", N.y).attr("width", w + 19).attr("height", 39)
      .attr("fill", "#fff").attr("stroke", "#a6a6a6").attr("stroke-width", 1.3);
  }
});
</script>
</body>
</html>
